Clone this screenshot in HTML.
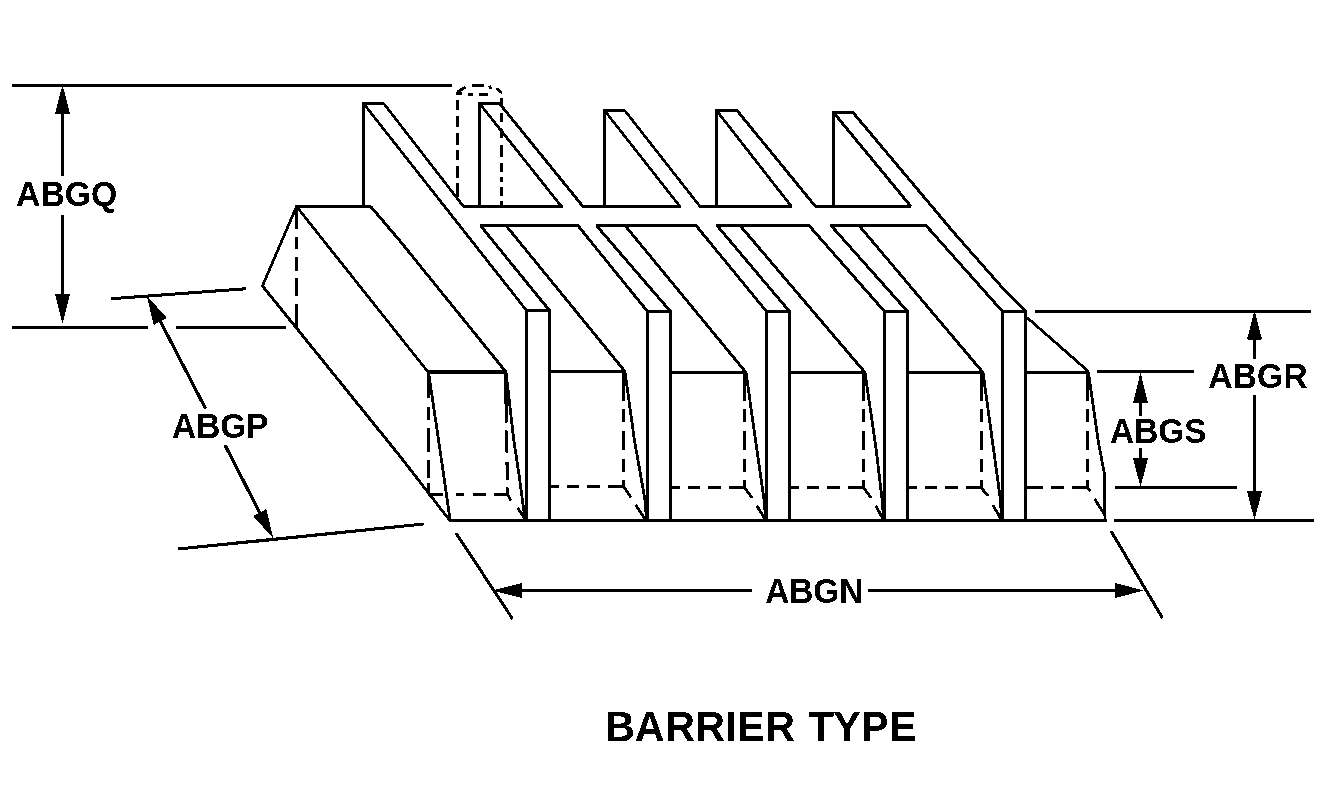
<!DOCTYPE html>
<html lang="en"><head><meta charset="utf-8"><title>BARRIER TYPE</title>
<style>
html,body{margin:0;padding:0;background:#fff;}
body{width:1323px;height:799px;overflow:hidden;}
svg{display:block;position:absolute;left:0;top:0;}
svg line,svg polyline{stroke:#000;}
svg text{font-family:"Liberation Sans",sans-serif;font-weight:bold;fill:#000;}
</style></head><body>
<svg width="1323" height="799" viewBox="0 0 1323 799">
<defs><filter id="bw" x="0" y="0" width="1323" height="799" filterUnits="userSpaceOnUse" color-interpolation-filters="sRGB"><feColorMatrix type="matrix" values="0.33 0.34 0.33 0 0 0.33 0.34 0.33 0 0 0.33 0.34 0.33 0 0 0 0 0 1 0"/><feComponentTransfer><feFuncR type="discrete" tableValues="0 1"/><feFuncG type="discrete" tableValues="0 1"/><feFuncB type="discrete" tableValues="0 1"/></feComponentTransfer></filter></defs>
<g filter="url(#bw)">
<rect width="1323" height="799" fill="#fff"/>
<!-- ABGQ dimension -->
<line x1="12" y1="85.5" x2="452" y2="85.5" stroke-width="3"/>
<line x1="12" y1="327.5" x2="147.5" y2="327.5" stroke-width="3"/>
<line x1="176" y1="327.5" x2="285.5" y2="327.5" stroke-width="3"/>
<line x1="62.5" y1="105" x2="62.5" y2="175.6" stroke-width="3"/>
<line x1="62.5" y1="214.75" x2="62.5" y2="300" stroke-width="3"/>
<polygon points="62.5,84.8 70.0,113.8 55.0,113.8" fill="#000" stroke="none"/>
<polygon points="62.5,324.0 55.0,294.0 70.0,294.0" fill="#000" stroke="none"/>
<text transform="translate(16.06,206.00) scale(0.3376,0.3478)" font-size="100">ABGQ</text>
<!-- ABGP dimension -->
<line x1="111" y1="298.75" x2="246" y2="288.75" stroke-width="3.2"/>
<line x1="178" y1="549" x2="423.75" y2="524" stroke-width="3.2"/>
<line x1="155" y1="311" x2="205.6" y2="408.75" stroke-width="3.2"/>
<line x1="225" y1="445" x2="266" y2="525" stroke-width="3.2"/>
<polygon points="146.8,295.7 166.9,317.9 153.6,324.9" fill="#000" stroke="none"/>
<polygon points="273.2,538.3 253.1,516.1 266.4,509.1" fill="#000" stroke="none"/>
<text transform="translate(172.07,438.00) scale(0.3336,0.3478)" font-size="100">ABGP</text>
<!-- left end of body -->
<polyline points="296.5,206.5 262.5,286 400,456.25 449.4,520" fill="none" stroke-width="2.8" stroke-linejoin="round"/>
<line x1="296.5" y1="206" x2="296.5" y2="229" stroke-width="3"/>
<line x1="296.5" y1="236.6" x2="296.5" y2="249" stroke-width="3"/>
<line x1="296.5" y1="257.4" x2="296.5" y2="270.7" stroke-width="3"/>
<line x1="296.5" y1="278.2" x2="296.5" y2="295.7" stroke-width="3"/>
<line x1="296.5" y1="304" x2="296.5" y2="327" stroke-width="3"/>
<line x1="295.5" y1="206.5" x2="371" y2="206.5" stroke-width="3"/>
<line x1="296.5" y1="206.5" x2="428" y2="372" stroke-width="2.8"/>
<polyline points="370.7,206.5 400,241 506,372" fill="none" stroke-width="2.8" stroke-linejoin="round"/>
<!-- fins -->
<line x1="363.5" y1="102" x2="363.5" y2="208" stroke-width="3"/>
<line x1="362" y1="103.5" x2="384.25" y2="103.5" stroke-width="3"/>
<line x1="383.75" y1="103.5" x2="463.5" y2="206.5" stroke-width="2.8"/>
<line x1="479.5" y1="102" x2="479.5" y2="208" stroke-width="3"/>
<line x1="478" y1="103.5" x2="502.5" y2="103.5" stroke-width="3"/>
<line x1="479.5" y1="103.5" x2="561.5" y2="206.5" stroke-width="2.8"/>
<line x1="499.5" y1="103.5" x2="583" y2="206.5" stroke-width="2.8"/>
<line x1="604.5" y1="109" x2="604.5" y2="208" stroke-width="3"/>
<line x1="603" y1="110.5" x2="625.25" y2="110.5" stroke-width="3"/>
<line x1="604.5" y1="110.5" x2="680" y2="206.5" stroke-width="2.8"/>
<line x1="624.75" y1="110.5" x2="700" y2="206.5" stroke-width="2.8"/>
<line x1="716.5" y1="109" x2="716.5" y2="208" stroke-width="3"/>
<line x1="715" y1="110.5" x2="737.5" y2="110.5" stroke-width="3"/>
<line x1="716.5" y1="110.5" x2="791.5" y2="206.5" stroke-width="2.8"/>
<line x1="737" y1="110.5" x2="815.5" y2="206.5" stroke-width="2.8"/>
<line x1="833.5" y1="111" x2="833.5" y2="208" stroke-width="3"/>
<line x1="832" y1="112.5" x2="853.5" y2="112.5" stroke-width="3"/>
<line x1="833.5" y1="112.5" x2="911" y2="206.5" stroke-width="2.8"/>
<line x1="363.5" y1="103.5" x2="526.5" y2="310.5" stroke-width="2.8"/>
<polyline points="853,112.5 954.2,233 1004.4,290 1026,311" fill="none" stroke-width="2.8" stroke-linejoin="round"/>
<line x1="463" y1="206.5" x2="562.5" y2="206.5" stroke-width="3"/>
<line x1="582" y1="206.5" x2="680.5" y2="206.5" stroke-width="3"/>
<line x1="699.5" y1="206.5" x2="792" y2="206.5" stroke-width="3"/>
<line x1="815" y1="206.5" x2="911" y2="206.5" stroke-width="3"/>
<!-- shelf and slabs -->
<line x1="479.9" y1="225.5" x2="578.8" y2="225.5" stroke-width="3"/>
<line x1="480.4" y1="225.5" x2="549.5" y2="310.5" stroke-width="2.8"/>
<line x1="506" y1="225.5" x2="625" y2="371.5" stroke-width="2.8"/>
<line x1="577.8" y1="225.5" x2="647.5" y2="311.5" stroke-width="2.8"/>
<line x1="595.9" y1="225.5" x2="697" y2="225.5" stroke-width="3"/>
<line x1="596.4" y1="225.5" x2="670.5" y2="311.5" stroke-width="2.8"/>
<line x1="625" y1="225.5" x2="746" y2="372.5" stroke-width="2.8"/>
<line x1="696" y1="225.5" x2="766.5" y2="311.5" stroke-width="2.8"/>
<line x1="716.5" y1="225.5" x2="810" y2="225.5" stroke-width="3"/>
<line x1="717" y1="225.5" x2="789.5" y2="311.5" stroke-width="2.8"/>
<line x1="740" y1="225.5" x2="865" y2="372.5" stroke-width="2.8"/>
<line x1="809" y1="225.5" x2="884.5" y2="311.5" stroke-width="2.8"/>
<line x1="830.5" y1="225.5" x2="927" y2="225.5" stroke-width="3"/>
<line x1="831" y1="225.5" x2="907.5" y2="311.5" stroke-width="2.8"/>
<line x1="859" y1="225.5" x2="983" y2="372.5" stroke-width="2.8"/>
<line x1="926" y1="225.5" x2="1002.5" y2="311.5" stroke-width="2.8"/>
<line x1="526.5" y1="309" x2="526.5" y2="520" stroke-width="3"/>
<line x1="549.5" y1="309" x2="549.5" y2="520" stroke-width="3"/>
<line x1="526.5" y1="310.5" x2="549.5" y2="310.5" stroke-width="3"/>
<line x1="647.5" y1="310" x2="647.5" y2="520" stroke-width="3"/>
<line x1="670.5" y1="310" x2="670.5" y2="520" stroke-width="3"/>
<line x1="647.5" y1="311.5" x2="670.5" y2="311.5" stroke-width="3"/>
<line x1="766.5" y1="310" x2="766.5" y2="520" stroke-width="3"/>
<line x1="789.5" y1="310" x2="789.5" y2="520" stroke-width="3"/>
<line x1="766.5" y1="311.5" x2="789.5" y2="311.5" stroke-width="3"/>
<line x1="884.5" y1="310" x2="884.5" y2="520" stroke-width="3"/>
<line x1="907.5" y1="310" x2="907.5" y2="520" stroke-width="3"/>
<line x1="884.5" y1="311.5" x2="907.5" y2="311.5" stroke-width="3"/>
<line x1="1002.5" y1="310" x2="1002.5" y2="520" stroke-width="3"/>
<line x1="1025.5" y1="310" x2="1025.5" y2="520" stroke-width="3"/>
<line x1="1002.5" y1="311.5" x2="1025.5" y2="311.5" stroke-width="3"/>
<!-- front blocks -->
<line x1="427" y1="372" x2="507" y2="372" stroke-width="4"/>
<line x1="549.5" y1="371.5" x2="626" y2="371.5" stroke-width="3"/>
<line x1="670.5" y1="372.5" x2="747" y2="372.5" stroke-width="3"/>
<line x1="789.5" y1="372.5" x2="866" y2="372.5" stroke-width="3"/>
<line x1="907.5" y1="372.5" x2="984" y2="372.5" stroke-width="3"/>
<line x1="1025.5" y1="372.5" x2="1089" y2="372.5" stroke-width="3"/>
<line x1="1027" y1="317.5" x2="1088.5" y2="371.5" stroke-width="2.8"/>
<polyline points="428.5,372 440,450 450,519.5" fill="none" stroke-width="2.8" stroke-linejoin="round"/>
<polyline points="506,372 513.75,440 519.4,477.5 525,519.5" fill="none" stroke-width="2.8" stroke-linejoin="round"/>
<polyline points="625,372 634.4,440 645,500 646.5,519.5" fill="none" stroke-width="2.8" stroke-linejoin="round"/>
<polyline points="746,372.5 756.9,450 764.5,503 765.5,519.5" fill="none" stroke-width="2.8" stroke-linejoin="round"/>
<polyline points="865,372.5 876.25,450 882.5,503 883.5,519.5" fill="none" stroke-width="2.8" stroke-linejoin="round"/>
<polyline points="983,372.5 992.25,440 1000.5,500 1001.5,519.5" fill="none" stroke-width="2.8" stroke-linejoin="round"/>
<polyline points="1088.5,372.5 1098,440 1104.4,473.75 1105,520" fill="none" stroke-width="2.8" stroke-linejoin="round"/>
<!-- hidden edges -->
<line x1="428.5" y1="372" x2="428.5" y2="398.5" stroke-width="3"/>
<line x1="428.5" y1="407" x2="428.5" y2="420" stroke-width="3"/>
<line x1="428.5" y1="427.75" x2="428.5" y2="451.9" stroke-width="3"/>
<line x1="428.5" y1="460" x2="428.5" y2="478.1" stroke-width="3"/>
<line x1="428.5" y1="483.1" x2="428.5" y2="494" stroke-width="3"/>
<line x1="505.5" y1="372" x2="506.33" y2="422.5" stroke-width="3"/>
<line x1="506.46" y1="430.6" x2="506.82" y2="452.5" stroke-width="3"/>
<line x1="506.97" y1="461.9" x2="507.27" y2="479.75" stroke-width="3"/>
<line x1="507.39" y1="487.5" x2="507.5" y2="494" stroke-width="3"/>
<line x1="623.5" y1="372" x2="623.5" y2="400.6" stroke-width="3"/>
<line x1="623.5" y1="408.75" x2="623.5" y2="422.5" stroke-width="3"/>
<line x1="623.5" y1="431.25" x2="623.5" y2="450" stroke-width="3"/>
<line x1="623.5" y1="458.5" x2="623.5" y2="472.5" stroke-width="3"/>
<line x1="623.5" y1="480.3" x2="623.5" y2="488" stroke-width="3"/>
<line x1="744.5" y1="372" x2="744.5" y2="400.6" stroke-width="3"/>
<line x1="744.5" y1="408.75" x2="744.5" y2="422.5" stroke-width="3"/>
<line x1="744.5" y1="431.25" x2="744.5" y2="450" stroke-width="3"/>
<line x1="744.5" y1="458.5" x2="744.5" y2="472.5" stroke-width="3"/>
<line x1="744.5" y1="480.3" x2="744.5" y2="488" stroke-width="3"/>
<line x1="863.5" y1="372" x2="863.5" y2="400.6" stroke-width="3"/>
<line x1="863.5" y1="408.75" x2="863.5" y2="422.5" stroke-width="3"/>
<line x1="863.5" y1="431.25" x2="863.5" y2="450" stroke-width="3"/>
<line x1="863.5" y1="458.5" x2="863.5" y2="472.5" stroke-width="3"/>
<line x1="863.5" y1="480.3" x2="863.5" y2="488" stroke-width="3"/>
<line x1="981.5" y1="372" x2="981.5" y2="400.6" stroke-width="3"/>
<line x1="981.5" y1="408.75" x2="981.5" y2="422.5" stroke-width="3"/>
<line x1="981.5" y1="431.25" x2="981.5" y2="450" stroke-width="3"/>
<line x1="981.5" y1="458.5" x2="981.5" y2="472.5" stroke-width="3"/>
<line x1="981.5" y1="480.3" x2="981.5" y2="488" stroke-width="3"/>
<line x1="1087.5" y1="372" x2="1087.5" y2="400.6" stroke-width="3"/>
<line x1="1087.5" y1="408.75" x2="1087.5" y2="422.5" stroke-width="3"/>
<line x1="1087.5" y1="431.25" x2="1087.5" y2="450" stroke-width="3"/>
<line x1="1087.5" y1="458.5" x2="1087.5" y2="472.5" stroke-width="3"/>
<line x1="1087.5" y1="480.3" x2="1087.5" y2="488" stroke-width="3"/>
<line x1="428" y1="494.5" x2="443" y2="494.5" stroke-width="3"/>
<line x1="456" y1="494.5" x2="464" y2="494.5" stroke-width="3"/>
<line x1="473" y1="494.5" x2="486" y2="494.5" stroke-width="3"/>
<line x1="494" y1="494.5" x2="508.75" y2="494.5" stroke-width="3"/>
<line x1="551" y1="486.5" x2="558.75" y2="486.5" stroke-width="3"/>
<line x1="566.9" y1="486.5" x2="578.75" y2="486.5" stroke-width="3"/>
<line x1="587.25" y1="486.5" x2="599.75" y2="486.5" stroke-width="3"/>
<line x1="608" y1="486.5" x2="624.8" y2="486.5" stroke-width="3"/>
<line x1="672" y1="487.5" x2="680" y2="487.5" stroke-width="3"/>
<line x1="688.3" y1="487.5" x2="700" y2="487.5" stroke-width="3"/>
<line x1="708.3" y1="487.5" x2="720.8" y2="487.5" stroke-width="3"/>
<line x1="729" y1="487.5" x2="746" y2="487.5" stroke-width="3"/>
<line x1="791" y1="487.5" x2="799" y2="487.5" stroke-width="3"/>
<line x1="807.3" y1="487.5" x2="819" y2="487.5" stroke-width="3"/>
<line x1="827.3" y1="487.5" x2="839.8" y2="487.5" stroke-width="3"/>
<line x1="848" y1="487.5" x2="865" y2="487.5" stroke-width="3"/>
<line x1="909" y1="487.5" x2="917" y2="487.5" stroke-width="3"/>
<line x1="925.3" y1="487.5" x2="937" y2="487.5" stroke-width="3"/>
<line x1="945.3" y1="487.5" x2="957.8" y2="487.5" stroke-width="3"/>
<line x1="966" y1="487.5" x2="983" y2="487.5" stroke-width="3"/>
<line x1="1027" y1="487.5" x2="1042.75" y2="487.5" stroke-width="3"/>
<line x1="1051" y1="487.5" x2="1063.75" y2="487.5" stroke-width="3"/>
<line x1="1071.9" y1="487.5" x2="1088.75" y2="487.5" stroke-width="3"/>
<line x1="507.5" y1="494.5" x2="511" y2="500.6" stroke-width="2.8"/>
<line x1="517.5" y1="508" x2="525" y2="518.75" stroke-width="2.8"/>
<line x1="624" y1="487" x2="631" y2="497.5" stroke-width="2.8"/>
<line x1="635.6" y1="505" x2="645" y2="519" stroke-width="2.8"/>
<line x1="745" y1="488" x2="752" y2="498" stroke-width="2.8"/>
<line x1="756.6" y1="505.5" x2="765" y2="519" stroke-width="2.8"/>
<line x1="864" y1="488" x2="871" y2="498" stroke-width="2.8"/>
<line x1="875.6" y1="505.5" x2="883" y2="519" stroke-width="2.8"/>
<line x1="981.5" y1="488" x2="988" y2="496" stroke-width="2.8"/>
<line x1="992.75" y1="505" x2="1001" y2="519" stroke-width="2.8"/>
<line x1="1087" y1="488" x2="1090.6" y2="490.6" stroke-width="2.8"/>
<line x1="1094.4" y1="498.75" x2="1105" y2="515" stroke-width="2.8"/>
<line x1="449" y1="520.5" x2="1106.5" y2="520.5" stroke-width="3"/>
<!-- dashed cylinder -->
<line x1="457.5" y1="100" x2="457.5" y2="110" stroke-width="3"/>
<line x1="457.5" y1="115.7" x2="457.5" y2="127" stroke-width="3"/>
<line x1="457.5" y1="132.5" x2="457.5" y2="145" stroke-width="3"/>
<line x1="457.5" y1="150" x2="457.5" y2="160" stroke-width="3"/>
<line x1="457.5" y1="165.7" x2="457.5" y2="177.6" stroke-width="3"/>
<line x1="457.5" y1="183" x2="457.5" y2="197" stroke-width="3"/>
<line x1="501.5" y1="97.6" x2="501.5" y2="104" stroke-width="3"/>
<line x1="501.5" y1="112.7" x2="501.5" y2="122.5" stroke-width="3"/>
<line x1="501.5" y1="128.6" x2="501.5" y2="138.4" stroke-width="3"/>
<line x1="501.5" y1="145.3" x2="501.5" y2="157.4" stroke-width="3"/>
<line x1="501.5" y1="162.7" x2="501.5" y2="172.5" stroke-width="3"/>
<line x1="501.5" y1="177" x2="501.5" y2="181.6" stroke-width="3"/>
<line x1="501.5" y1="186.9" x2="501.5" y2="196" stroke-width="3"/>
<line x1="501.5" y1="201.3" x2="501.5" y2="205.8" stroke-width="3"/>
<line x1="456" y1="93.5" x2="462" y2="93.5" stroke-width="3"/>
<line x1="457.5" y1="92" x2="465.5" y2="87" stroke-width="2.8"/>
<line x1="472" y1="85.5" x2="484" y2="85.5" stroke-width="3"/>
<line x1="489.5" y1="85.5" x2="491" y2="89" stroke-width="2.8"/>
<line x1="496.5" y1="88.5" x2="502" y2="93" stroke-width="2.8"/>
<line x1="468" y1="94.5" x2="473" y2="94.5" stroke-width="3"/>
<line x1="479" y1="94.5" x2="488" y2="94.5" stroke-width="3"/>
<!-- ABGR / ABGS dimensions -->
<line x1="1035" y1="311.5" x2="1311" y2="311.5" stroke-width="3"/>
<line x1="1113.75" y1="520.5" x2="1314" y2="520.5" stroke-width="3"/>
<line x1="1097" y1="371.5" x2="1194" y2="371.5" stroke-width="3"/>
<line x1="1115" y1="487.5" x2="1237" y2="487.5" stroke-width="3"/>
<line x1="1254.5" y1="330" x2="1254.5" y2="358.75" stroke-width="3"/>
<line x1="1254.5" y1="394.75" x2="1254.5" y2="500" stroke-width="3"/>
<polygon points="1254.5,310.5 1262.0,339.5 1247.0,339.5" fill="#000" stroke="none"/>
<polygon points="1254.5,520.0 1247.0,491.0 1262.0,491.0" fill="#000" stroke="none"/>
<line x1="1140.5" y1="395" x2="1140.5" y2="415.6" stroke-width="3"/>
<line x1="1140.5" y1="448.1" x2="1140.5" y2="465" stroke-width="3"/>
<polygon points="1140.5,372.5 1148.0,402.9 1133.0,402.9" fill="#000" stroke="none"/>
<polygon points="1140.5,487.1 1133.0,458.1 1148.0,458.1" fill="#000" stroke="none"/>
<text transform="translate(1208.15,387.90) scale(0.3382,0.3478)" font-size="100">ABGR</text>
<text transform="translate(1110.07,442.90) scale(0.3338,0.3478)" font-size="100">ABGS</text>
<!-- ABGN dimension -->
<line x1="456" y1="533" x2="512.6" y2="619" stroke-width="3.1"/>
<line x1="1111" y1="531" x2="1162.5" y2="618" stroke-width="3.1"/>
<line x1="515" y1="590.5" x2="751.9" y2="590.5" stroke-width="3"/>
<line x1="868" y1="590.5" x2="1120" y2="590.5" stroke-width="3"/>
<polygon points="492.5,590.5 522.0,583.0 522.0,598.0" fill="#000" stroke="none"/>
<polygon points="1144.0,590.5 1115.0,598.0 1115.0,583.0" fill="#000" stroke="none"/>
<text transform="translate(765.16,602.90) scale(0.3340,0.3478)" font-size="100">ABGN</text>
<!-- title -->
<text transform="translate(0,740.90) scale(0.4130,0.4232)" font-size="100" x="1465.3 1536.9 1610.8 1683.3 1756.2 1784.7 1853.0 1913.0 1958.0 2017.8 2084.9 2153.0">BARRIER TYPE</text>
</g>
</svg>
</body></html>
